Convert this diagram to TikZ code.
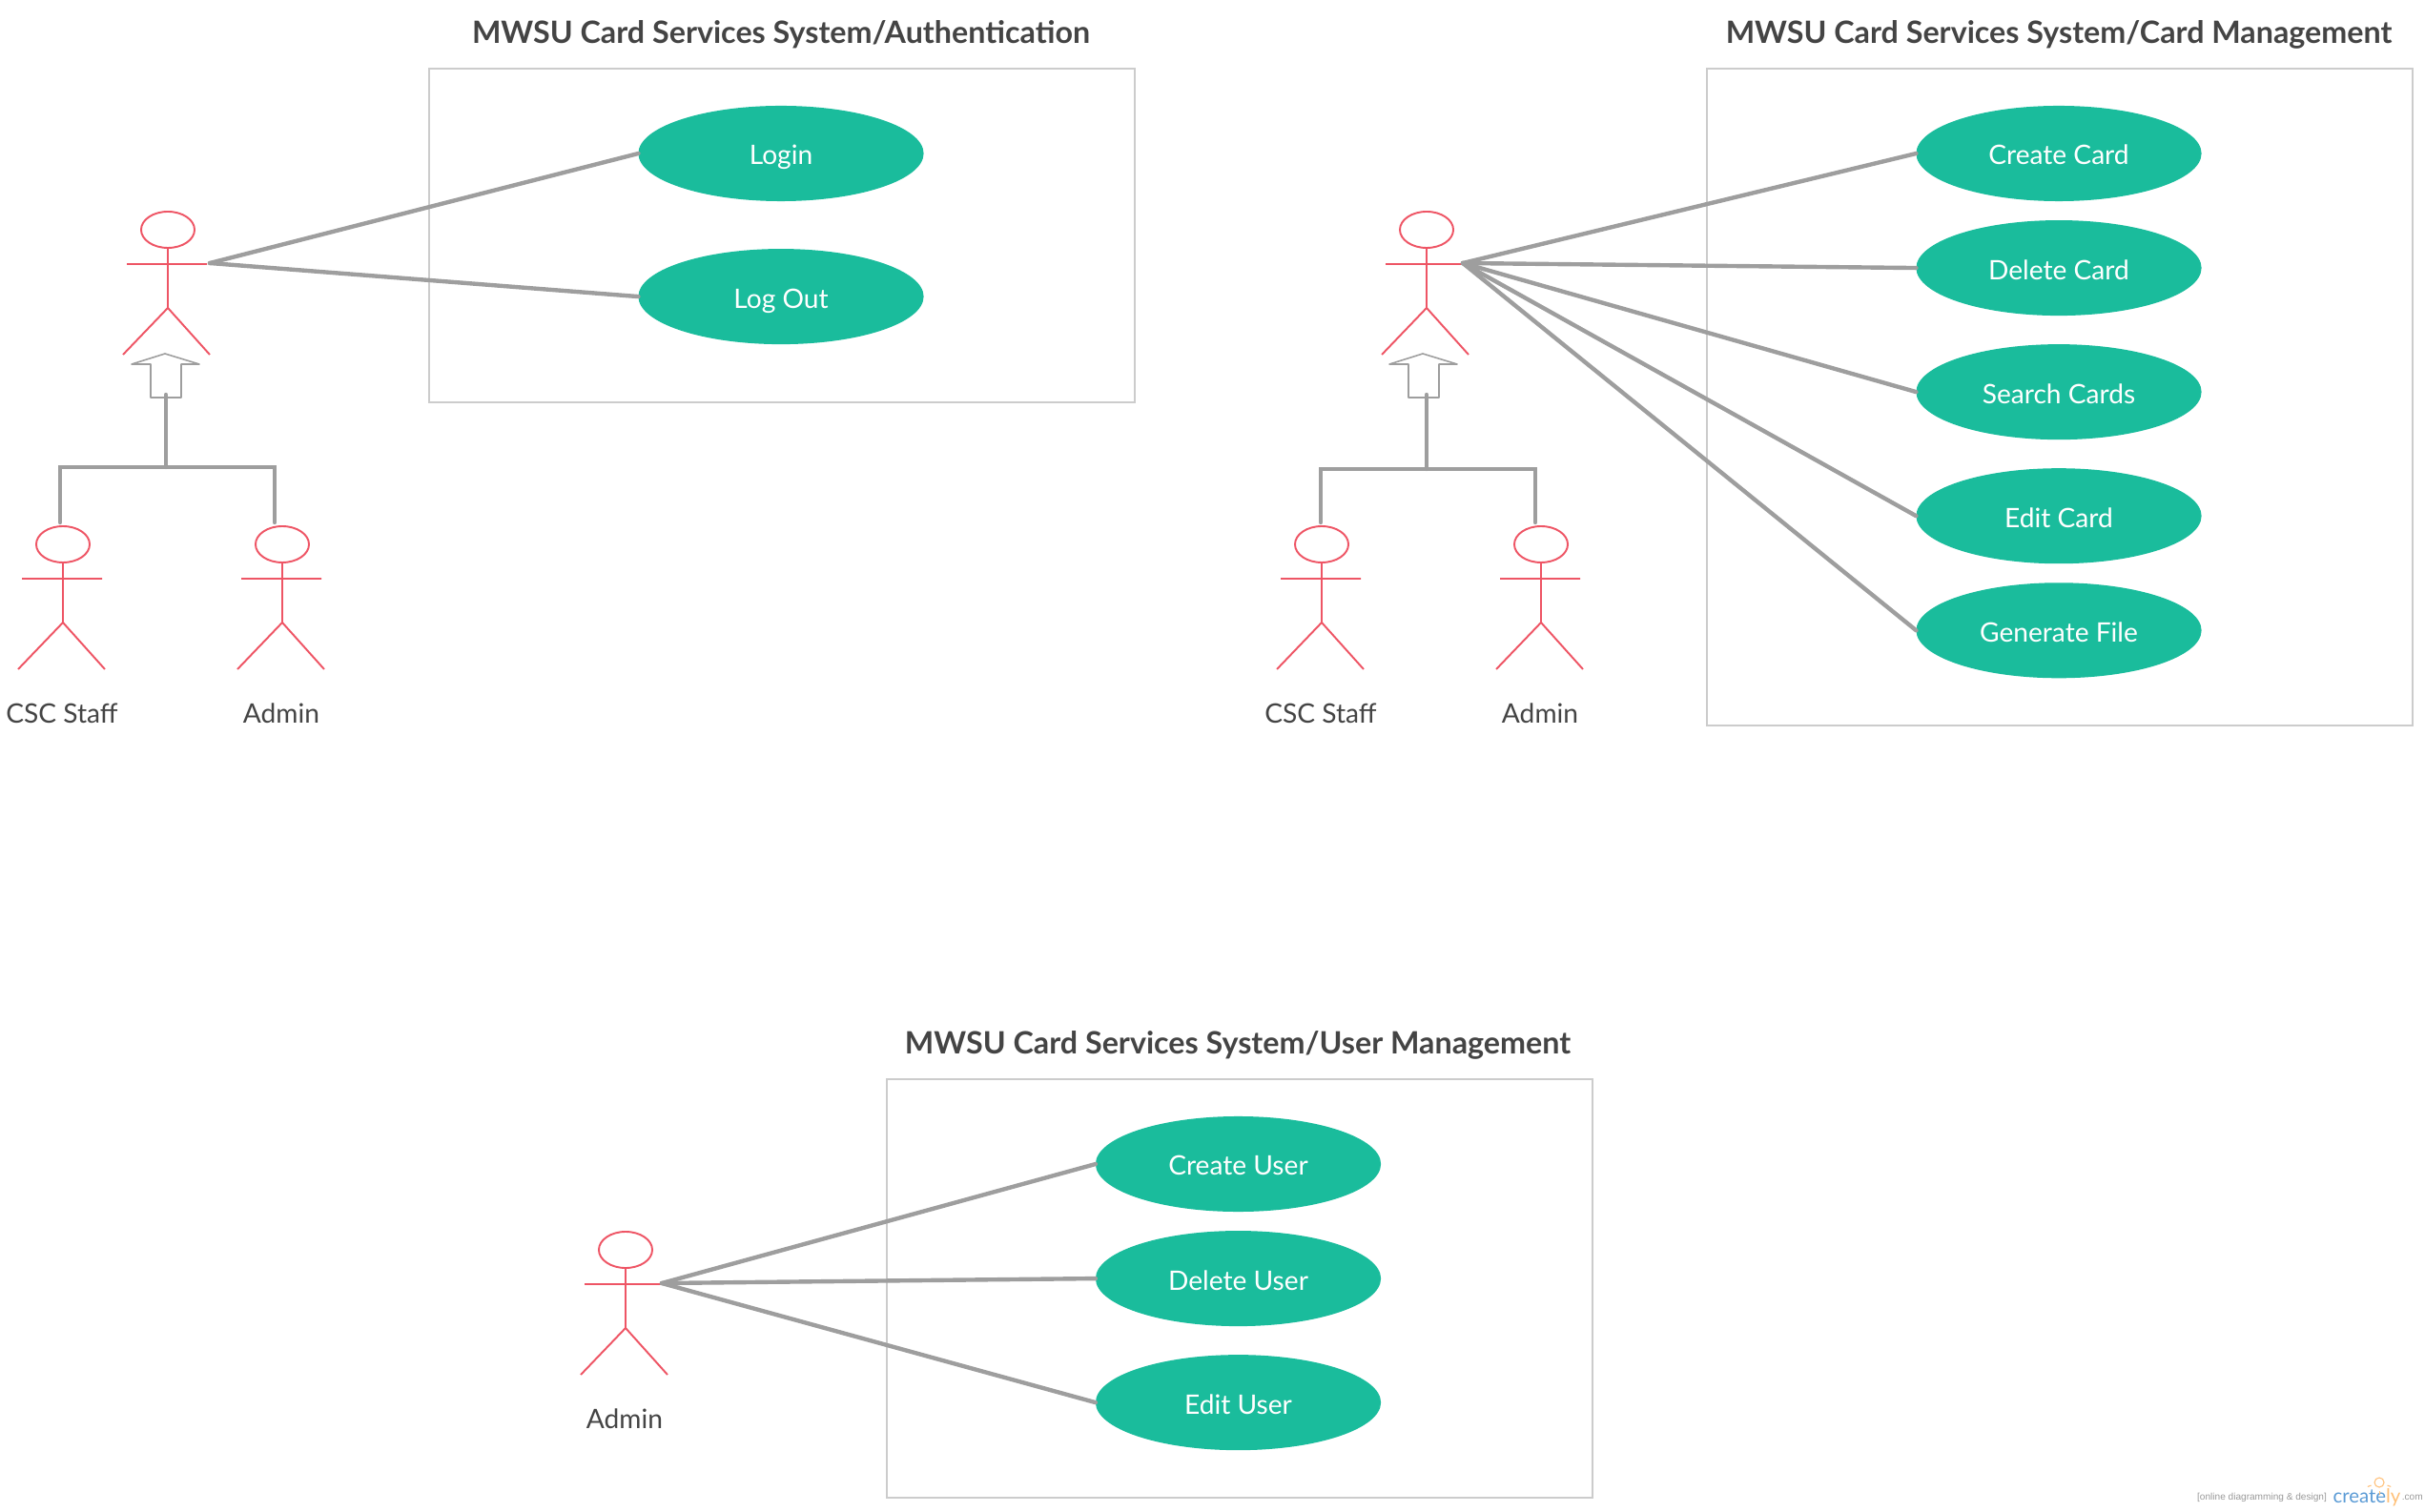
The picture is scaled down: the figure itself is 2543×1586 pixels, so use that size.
\documentclass[tikz,border=0pt]{standalone}
\usepackage{fontspec}
\setmainfont{Lato}
\newfontfamily\markfont{Liberation Sans}
\usetikzlibrary{positioning, shapes.geometric, calc}
\definecolor{cCase}{HTML}{1ABC9C}
\definecolor{cActor}{HTML}{EE5565}
\definecolor{cLink}{HTML}{9E9E9E}
\definecolor{cFrame}{HTML}{CCCCCC}
\definecolor{cInk}{HTML}{444444}
\definecolor{cBlue}{HTML}{5B9BD5}
\definecolor{cBulb}{HTML}{FFC078}

\begin{document}
\begin{tikzpicture}[x=0.01cm,y=-0.01cm,font=\fontsize{8pt}{10pt}\selectfont,
  usecase/.style={ellipse,fill=cCase,text=white,minimum width=2.99cm,minimum height=1cm,inner sep=0pt,outer sep=0pt,text height=7.4pt,text depth=0.6pt},
  frame/.style={draw=cFrame,line width=0.6pt},
  ttl/.style={font=\fontsize{9.17pt}{11pt}\selectfont\bfseries,text=cInk},
  lbl/.style={text=cInk},
  link/.style={draw=cLink,line width=1.25pt,line cap=round},
  stick/.style={draw=cActor,line width=0.55pt},
  actor/.pic={
    \node[stick,ellipse,minimum width=0.56cm,minimum height=0.38cm,inner sep=0pt] (-head) at (0,-36) {};
    \coordinate (-hand) at (38,-1);
    \draw[stick] (-head.south) -- (0,46) (-43,0) -- (41,0) (-47,95) -- (0,46) -- (44,95);
  },
  upward/.pic={
    \coordinate (-tail) at (0,43);
    \draw[draw=cLink,line width=0.45pt,line join=round] (-1,0) -- (-36,11) -- (-16,11) -- (-16,46) -- (16,46) -- (16,11) -- (35,11) -- cycle;
  }]
  \useasboundingbox (0,0) rectangle (2543,1586);
  % authentication
  \node[ttl] (authttl) at (819,36) {MWSU Card Services System/Authentication};
  \node[frame,minimum width=7.4cm,minimum height=3.5cm,inner sep=0pt] (authbox) at (820,247) {};
  \node[usecase] (login) at (819,161) {Login};
  \node[usecase, below=0.5cm of login] (logout) {Log Out};
  \pic (auth) at (176,277) {actor};
  \pic (authcsc) at (66,607) {actor};
  \pic (authadm) at (296,607) {actor};
  \node[lbl] (authcscname) at (65,748) {CSC Staff};
  \node[lbl] (authadmname) at (295,748) {Admin};
  \pic (authup) at (174,371) {upward};
  \coordinate (authjoin) at (174,490);
  \coordinate (authtip) at ($(auth-hand)+(6,0)$);
  \draw[link] (authtip) -- (login.west);
  \draw[link] (authtip) -- (logout.west);
  \draw[link] (authup-tail) -- (authjoin);
  \draw[link] ($(authcsc-head.north)+(-3,-3)$) |- (authjoin) -| ($(authadm-head.north)+(-8,-3)$);
  % card management
  \node[ttl] (cardttl) at (2159,36) {MWSU Card Services System/Card Management};
  \node[frame,minimum width=7.4cm,minimum height=6.89cm,inner sep=0pt] (cardbox) at (2160,416.5) {};
  \node[usecase] (create) at (2159,161) {Create Card};
  \node[usecase, below=0.2cm of create] (delete) {Delete Card};
  \node[usecase, below=0.3cm of delete] (search) {Search Cards};
  \node[usecase, below=0.3cm of search] (edit) {Edit Card};
  \node[usecase, below=0.2cm of edit] (generate) {Generate File};
  \pic (card) at (1496,277) {actor};
  \pic (cardcsc) at (1386,607) {actor};
  \pic (cardadm) at (1616,607) {actor};
  \node[lbl] (cardcscname) at (1385,748) {CSC Staff};
  \node[lbl] (cardadmname) at (1615,748) {Admin};
  \pic (cardup) at (1493,371) {upward};
  \coordinate (cardjoin) at (1496,492);
  \draw[link] (card-hand) -- (create.west);
  \draw[link] (card-hand) -- (delete.west);
  \draw[link] (card-hand) -- (search.west);
  \draw[link] (card-hand) -- (edit.west);
  \draw[link] (card-hand) -- (generate.west);
  \draw[link] (cardup-tail -| cardjoin) -- (cardjoin);
  \draw[link] ($(cardcsc-head.north)+(-1,-3)$) |- (cardjoin) -| ($(cardadm-head.north)+(-6,-3)$);
  % user management
  \node[ttl] (userttl) at (1298,1096) {MWSU Card Services System/User Management};
  \node[frame,minimum width=7.4cm,minimum height=4.39cm,inner sep=0pt] (userbox) at (1300,1351.5) {};
  \node[usecase] (cuser) at (1298.5,1221) {Create User};
  \node[usecase, below=0.2cm of cuser] (duser) {Delete User};
  \node[usecase, below=0.3cm of duser] (euser) {Edit User};
  \pic (admin) at (656,1347) {actor};
  \node[lbl] (adminname) at (655,1488) {Admin};
  \draw[link] (admin-hand) -- (cuser.west);
  \draw[link] (admin-hand) -- (duser.west);
  \draw[link] (admin-hand) -- (euser.west);
  % watermark
  \node[font=\markfont\fontsize{2.87pt}{4pt}\selectfont,text=gray!80,inner sep=0pt] (markline) at (2372,1571) {[online diagramming \& design]};
  \node[font=\fontsize{5.8pt}{7pt}\selectfont,inner sep=0pt,right=1.5pt of markline] (markname) {\textcolor{cBlue}{create}\textcolor{cBulb}{ly}};
  \node[font=\markfont\fontsize{2.87pt}{4pt}\selectfont,text=gray!80,inner sep=0pt,right=0pt of markname] (markcom) {.com};
  \node[draw=cBulb,circle,minimum size=0.1cm,inner sep=0pt,line width=0.3pt] (bulb) at (2495,1555) {};
  \foreach \a in {20,90,160} \draw[draw=cBulb,line width=0.3pt] (bulb) ++(\a:9) -- ++(\a:4);
\end{tikzpicture}
\end{document}
